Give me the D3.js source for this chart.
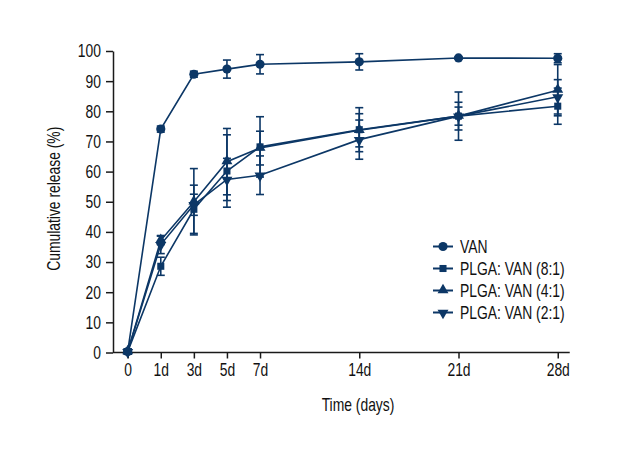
<!DOCTYPE html>
<html>
<head>
<meta charset="utf-8">
<script src="https://cdn.jsdelivr.net/npm/d3@7"></script>
<style>
  html, body { margin: 0; padding: 0; background: #fff; }
  svg { display: block; }
  text { font-family: "Liberation Sans", Arial, sans-serif; fill: #111; }
</style>
</head>
<body>
<svg id="chart" width="620" height="460"></svg>
<script>
// ---- Data ----
const days = [0, 1, 3, 5, 7, 14, 21, 28];
const xTickLabels = ["0", "1d", "3d", "5d", "7d", "14d", "21d", "28d"];
const yTicks = [0, 10, 20, 30, 40, 50, 60, 70, 80, 90, 100];
const seriesNames = ["VAN", "PLGA: VAN (8:1)", "PLGA: VAN (4:1)", "PLGA: VAN (2:1)"];

const vanMean   = [0.3, 74.1, 92.3, 94.0, 95.6, 96.4, 97.7, 97.6];
const vanErr    = [0.8, 1.0, 1.0, 3.0, 3.2, 2.7, 0.4, 1.5];
const plga81Mean = [0.3, 28.6, 47.5, 60.2, 68.2, 73.9, 78.4, 81.7];
const plga81Err  = [0.8, 3.0, 8.0, 12.0, 10.0, 7.3, 8.0, 6.0];
const plga41Mean = [0.3, 37.2, 50.0, 63.3, 67.8, 73.7, 78.4, 87.0];
const plga41Err  = [0.8, 1.4, 11.0, 11.0, 5.6, 5.5, 4.6, 8.5];
const plga21Mean = [0.3, 35.8, 49.0, 57.4, 58.8, 70.6, 78.4, 84.8];
const plga21Err  = [0.8, 3.0, 3.5, 7.0, 6.4, 6.5, 3.0, 5.7];

const seriesMeans = [vanMean, plga81Mean, plga41Mean, plga21Mean];
const seriesErrs = [vanErr, plga81Err, plga41Err, plga21Err];
const seriesSymbols = ["circle", "square", "triangleUp", "triangleDown"];

// ---- Layout ----
const color = "#0c3766";
const axisColor = "#1a1a1a";
const left = 113, x0 = 127.7, unit = 33.08;
const yBottom = 352.5, yTop = 51;
const fs = 18.5, sx = 0.75;   // condensed look via horizontal scale

const svg = d3.select("#chart");

const x = d3.scaleLinear()
  .domain([0, 1, 7, 28])
  .range([x0, x0 + unit, x0 + 4 * unit, x0 + 13 * unit]);
const y = d3.scaleLinear().domain([0, 100]).range([yBottom, yTop]);

// ---- Axes ----
const gx = svg.append("g").attr("transform", `translate(0,${yBottom})`);
gx.call(d3.axisBottom(x).tickValues(days).tickFormat((d, i) => xTickLabels[i]).tickSize(6).tickPadding(4).tickSizeOuter(0));
gx.select(".domain").remove();
gx.append("line").attr("x1", left).attr("x2", x(28) + 12).attr("y1", 0).attr("y2", 0)
  .attr("stroke", axisColor).attr("stroke-width", 1.5);
gx.selectAll(".tick line").attr("stroke", axisColor).attr("stroke-width", 1.5);
gx.selectAll(".tick text").attr("font-size", fs).attr("fill", "#111")
  .style("font-family", '"Liberation Sans", Arial, sans-serif')
  .attr("transform", `scale(${sx},1)`);

const gy = svg.append("g").attr("transform", `translate(${left},0)`);
gy.call(d3.axisLeft(y).tickValues(yTicks).tickSize(7).tickPadding(4).tickSizeOuter(0));
gy.select(".domain").attr("stroke", axisColor).attr("stroke-width", 1.5);
gy.selectAll(".tick line").attr("stroke", axisColor).attr("stroke-width", 1.5);
gy.selectAll(".tick text").attr("font-size", fs).attr("fill", "#111")
  .style("font-family", '"Liberation Sans", Arial, sans-serif')
  .attr("x", -12 / sx)
  .attr("transform", `scale(${sx},1)`);

// Axis titles
svg.append("text").attr("transform", `translate(358,411) scale(${sx},1)`).attr("text-anchor", "middle")
  .attr("font-size", fs).text("Time (days)");
svg.append("text").attr("transform", `translate(60,${(yTop + yBottom) / 2 - 3}) rotate(-90) scale(${sx},1)`)
  .attr("text-anchor", "middle").attr("font-size", fs).text("Cumulative release (%)");

// ---- Symbols ----
function symbolPath(kind) {
  if (kind === "circle") return d3.symbol().type(d3.symbolCircle).size(66)();
  if (kind === "square") return d3.symbol().type(d3.symbolSquare).size(50)();
  return d3.symbol().type(d3.symbolTriangle).size(52)();
}
function symbolTransform(kind, px, py) {
  if (kind === "triangleUp") return `translate(${px},${py - 0.5})`;
  if (kind === "triangleDown") return `translate(${px},${py + 0.5}) rotate(180)`;
  return `translate(${px},${py})`;
}

const line = d3.line().x(d => x(d.day)).y(d => y(d.v));
const capHalf = 4;

seriesMeans.forEach((means, s) => {
  const pts = days.map((d, i) => ({ day: d, v: means[i], e: seriesErrs[s][i] }));
  const g = svg.append("g");
  g.append("path").datum(pts).attr("d", line).attr("fill", "none")
    .attr("stroke", color).attr("stroke-width", 1.6);
  const eb = g.selectAll(".eb").data(pts).enter().append("g");
  eb.append("line").attr("x1", d => x(d.day)).attr("x2", d => x(d.day))
    .attr("y1", d => y(d.v - d.e)).attr("y2", d => y(d.v + d.e))
    .attr("stroke", color).attr("stroke-width", 1.6);
  eb.append("line").attr("x1", d => x(d.day) - capHalf).attr("x2", d => x(d.day) + capHalf)
    .attr("y1", d => y(d.v + d.e)).attr("y2", d => y(d.v + d.e))
    .attr("stroke", color).attr("stroke-width", 1.6);
  eb.append("line").attr("x1", d => x(d.day) - capHalf).attr("x2", d => x(d.day) + capHalf)
    .attr("y1", d => y(d.v - d.e)).attr("y2", d => y(d.v - d.e))
    .attr("stroke", color).attr("stroke-width", 1.6);
});

seriesMeans.forEach((means, s) => {
  const kind = seriesSymbols[s];
  svg.append("g").selectAll("path").data(days.map((d, i) => ({ day: d, v: means[i] })))
    .enter().append("path")
    .attr("d", symbolPath(kind))
    .attr("transform", d => symbolTransform(kind, x(d.day), y(d.v)))
    .attr("fill", color);
});

// ---- Legend ----
const legend = svg.append("g");
const legX = 443, legY0 = 246.5, legDy = 22;
seriesNames.forEach((name, s) => {
  const ly = legY0 + s * legDy;
  const kind = seriesSymbols[s];
  legend.append("line").attr("x1", legX - 10).attr("x2", legX + 10).attr("y1", ly).attr("y2", ly)
    .attr("stroke", color).attr("stroke-width", 2);
  legend.append("path").attr("d", symbolPath(kind)).attr("transform", symbolTransform(kind, legX, ly))
    .attr("fill", color);
  legend.append("text").attr("transform", `translate(${legX + 17},${ly}) scale(${sx},1)`).attr("dy", "0.36em")
    .attr("font-size", fs).text(name);
});
</script>
</body>
</html>
